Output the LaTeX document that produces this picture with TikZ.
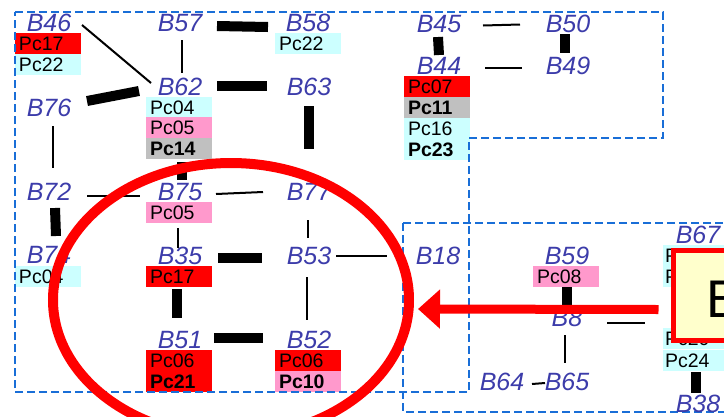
\documentclass[tikz,border=0pt]{standalone}
\usepackage{fontspec}
\setmainfont{Liberation Sans}
\usetikzlibrary{arrows.meta}
\definecolor{labblue}{RGB}{60,60,170}
\definecolor{dashblue}{RGB}{25,110,215}
\definecolor{pcred}{RGB}{255,0,0}
\definecolor{pccyan}{RGB}{204,255,255}
\definecolor{pcpink}{RGB}{255,153,204}
\definecolor{pcgray}{RGB}{192,192,192}
\definecolor{bigfill}{RGB}{255,255,204}
\begin{document}
\begin{tikzpicture}[x=1pt,y=-1pt,
  lab/.style={font=\fontsize{25}{25}\selectfont\itshape, text=labblue, inner sep=0pt, anchor=center},
  pcbox/.style={anchor=north west, inner xsep=4pt, inner ysep=0pt, outer sep=0pt, minimum height=21pt, text width=58pt, align=left, font=\fontsize{19.5}{20}\selectfont, text=black},
  pcb/.style={pcbox, font=\fontsize{19.5}{20}\selectfont\bfseries},
  thinlink/.style={line width=2pt, black},
  thicklink/.style={line width=10pt, black},
  zone/.style={dashblue, line width=2.2pt, dash pattern=on 8pt off 4pt},
]
\useasboundingbox (0,0) rectangle (724,416);
\fill[white] (0,0) rectangle (724,416);

% coloured Pc boxes
\node[pcbox, fill=pcred]  (p46a) at (15,33) {Pc17};
\node[pcbox, fill=pccyan] (p46b) at (15,54) {Pc22};
\node[pcbox, fill=pccyan] (p58)  at (275,33) {Pc22};
\node[pcbox, fill=pccyan] (p62a) at (146,97) {Pc04};
\node[pcbox, fill=pcpink] (p62b) at (146,117) {Pc05};
\node[pcb,   fill=pcgray] (p62c) at (146,138) {Pc14};
\node[pcbox, fill=pcred]  (p44a) at (404,76) {Pc07};
\node[pcb,   fill=pcgray] (p44b) at (404,97) {Pc11};
\node[pcbox, fill=pccyan] (p44c) at (404,118) {Pc16};
\node[pcb,   fill=pccyan] (p44d) at (404,139) {Pc23};
\node[pcbox, fill=pcpink] (p75)  at (146,202) {Pc05};
\node[pcbox, fill=pccyan] (p74)  at (15,266) {Pc04};
\node[pcbox, fill=pcred]  (p35)  at (146,266) {Pc17};
\node[pcbox, fill=pcred]  (p51a) at (146,350) {Pc06};
\node[pcb,   fill=pcred]  (p51b) at (146,371) {Pc21};
\node[pcbox, fill=pcred]  (p52a) at (275,350) {Pc06};
\node[pcb,   fill=pcpink] (p52b) at (275,371) {Pc10};
\node[pcbox, fill=pcpink] (p59)  at (533,266) {Pc08};
\node[pcbox, fill=pccyan, inner xsep=2pt, text width=62pt] (p67a) at (663,245) {Pc22};
\node[pcbox, fill=pccyan, inner xsep=2pt, text width=62pt] (p67b) at (663,266) {Pc23};
\node[pcbox, fill=pccyan, inner xsep=2pt, text width=62pt] (p38a) at (663,328) {Pc20};
\node[pcbox, fill=pccyan, inner xsep=2pt, text width=62pt] (p38b) at (663,350) {Pc24};

% dashed zones
\draw[zone] (15,12) -- (663,12) -- (663,138) -- (469,138) -- (469,392) -- (15,392) -- cycle;
\draw[zone] (403,223) rectangle (740,412);

% labels
\node[lab] (B46) at (49,23) {B46};
\node[lab] (B57) at (180,23) {B57};
\node[lab] (B58) at (308,23) {B58};
\node[lab] (B45) at (439,24) {B45};
\node[lab] (B50) at (568,24) {B50};
\node[lab] (B62) at (180,87) {B62};
\node[lab] (B63) at (309,87) {B63};
\node[lab] (B44) at (439,66) {B44};
\node[lab] (B49) at (568,66) {B49};
\node[lab] (B76) at (49,108) {B76};
\node[lab] (B72) at (49,192) {B72};
\node[lab] (B75) at (180,192) {B75};
\node[lab] (B77) at (309,192) {B77};
\node[lab] (B74) at (49,255) {B74};
\node[lab] (B35) at (180,256) {B35};
\node[lab] (B53) at (309,256) {B53};
\node[lab] (B18) at (438,256) {B18};
\node[lab] (B59) at (567,256) {B59};
\node[lab] (B67) at (698,235) {B67};
\node[lab] (B51) at (180,340) {B51};
\node[lab] (B52) at (309,340) {B52};
\node[lab] (B8)  at (567,318) {B8};
\node[lab] (B64) at (502,382) {B64};
\node[lab] (B65) at (567,382) {B65};
\node[lab] (B38) at (698,404) {B38};
\coordinate (hid) at (645,323);

% links
\draw[thinlink]  ([shift={(33,2)}]B46.center) -- ([shift={(-29,-4)}]B62.center);
\draw[thicklink] ([shift={(37,3)}]B57.center) -- ([shift={(-40,4)}]B58.center);
\draw[thinlink]  ([shift={(2,17)}]B57.center) -- ([shift={(2,-14)}]B62.center);
\draw[thicklink] ([shift={(37,-1)}]B62.center) -- ([shift={(-42,-1)}]B63.center);
\draw[thicklink] ([shift={(38,-7)}]B76.center) -- ([shift={(-41,4)}]B62.center);
\draw[thicklink] ([shift={(-0.5,19)}]B63.center) -- ([shift={(-0.5,-43)}]B77.center);
\draw[thinlink]  ([shift={(4,18)}]B76.center) -- ([shift={(4,-24)}]B72.center);
\draw[thicklink] ([shift={(3,3)}]p62c.south) -- ([shift={(2,-12)}]B75.center);
\draw[thinlink]  ([shift={(38,4)}]B72.center) -- ([shift={(-40,4)}]B75.center);
\draw[thinlink]  ([shift={(36,2)}]B75.center) -- ([shift={(-46,0)}]B77.center);
\draw[thinlink]  ([shift={(-1,28)}]B77.center) -- ([shift={(-1,-18)}]B53.center);
\draw[thicklink] ([shift={(6,16)}]B72.center) -- ([shift={(7,-19)}]B74.center);
\draw[thinlink]  ([shift={(-1,5)}]p75.south) -- ([shift={(-2,-8)}]B35.center);
\draw[thicklink] ([shift={(38,2)}]B35.center) -- ([shift={(-47,2)}]B53.center);
\draw[thinlink]  ([shift={(27,0)}]B53.center) -- ([shift={(-51,0)}]B18.center);
\draw[thicklink] ([shift={(-2,2)}]p35.south) -- ([shift={(-3,-22)}]B51.center);
\draw[thinlink]  ([shift={(-2,21)}]B53.center) -- ([shift={(-2,-20)}]B52.center);
\draw[thicklink] ([shift={(34,-2)}]B51.center) -- ([shift={(-46,-2)}]B52.center);
\draw[thinlink]  ([shift={(44,1.5)}]B45.center) -- ([shift={(-48,0.5)}]B50.center);
\draw[thinlink]  ([shift={(46,2)}]B44.center) -- ([shift={(-46,2)}]B49.center);
\draw[thicklink] ([shift={(-1,13)}]B45.center) -- ([shift={(0,-11)}]B44.center);
\draw[thicklink] ([shift={(-3.5,10)}]B50.center) -- ([shift={(-3.5,-13)}]B49.center);
\draw[thicklink] ([shift={(1,0)}]p59.south) -- ([shift={(0,-8)}]B8.center);
\draw[thinlink]  ([shift={(-2,17)}]B8.center) -- ([shift={(-2,-19)}]B65.center);
\draw[thinlink]  ([shift={(30,2)}]B64.center) -- ([shift={(-22,1)}]B65.center);
\draw[thinlink]  ([shift={(40,5)}]B8.center) -- (hid);
\draw[thicklink] ([shift={(0,1)}]p38b.south) -- ([shift={(-2,-11)}]B38.center);

% highlight
\draw[red, line width=10pt] (231,300) ellipse [x radius=178, y radius=137];
\node[draw=red, line width=5pt, fill=bigfill, outer sep=0pt, inner sep=0pt, anchor=north west, minimum width=120pt, minimum height=90pt] (big) at (673.5,250.5) {};
\node[font=\fontsize{53}{53}\selectfont, text=black, anchor=west, inner sep=0pt] (bigtxt) at (706,299) {B};
\coordinate (atip) at (418,309);
\draw[red, line width=9pt, -{Triangle[length=22pt,width=38pt]}] ([shift={(-15,14)}]big.west) -- (atip);
\end{tikzpicture}
\end{document}
